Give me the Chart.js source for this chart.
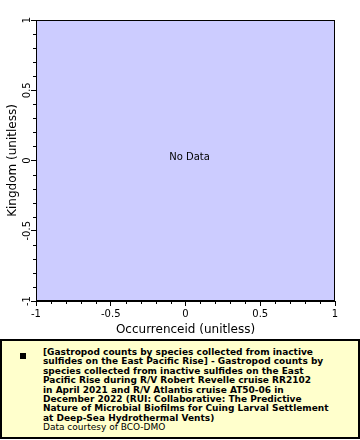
<!DOCTYPE html>
<html>
<head>
<meta charset="utf-8">
<script src="https://cdn.jsdelivr.net/npm/chart.js@4/dist/chart.umd.min.js"></script>
<style>
  body { margin: 0; background: #fff; width: 360px; height: 440px; overflow: hidden; position: relative; }
  #wrap { position: absolute; left: 0; top: 0; width: 360px; height: 338px; }
  #legend {
    position: absolute; left: 0; top: 339px; width: 360px; height: 100px;
    box-sizing: border-box; border: 2px solid #000; background: #FFFFCC;
    font-family: "DejaVu Sans", sans-serif; font-size: 9px; line-height: 9.4px; color: #000;
  }
  #legend .mark { position: absolute; left: 18px; top: 12px; width: 6px; height: 6px; background: #000; }
  #legend .txt { position: absolute; left: 41px; top: 7px; white-space: nowrap; }
  #legend .serie { font-weight: bold; }
</style>
</head>
<body>
<div id="wrap"><canvas id="myGraf" width="360" height="338"></canvas></div>
<div id="legend">
  <div class="mark"></div>
  <div class="txt" id="legendTxt"></div>
</div>
<script>
// donnees (aucune valeur dans ce jeu de donnees)
var occurrenceid = [];
var kingdom = [];
var xTicks = [-1, -0.5, 0, 0.5, 1];
var yTicks = [-1, -0.5, 0, 0.5, 1];
var xTitle = "Occurrenceid (unitless)";
var yTitle = "Kingdom (unitless)";
var serieLines = [
    "[Gastropod counts by species collected from inactive",
    "sulfides on the East Pacific Rise] - Gastropod counts by",
    "species collected from inactive sulfides on the East",
    "Pacific Rise during R/V Robert Revelle cruise RR2102",
    "in April 2021 and R/V Atlantis cruise AT50-06 in",
    "December 2022 (RUI: Collaborative: The Predictive",
    "Nature of Microbial Biofilms for Cuing Larval Settlement",
    "at Deep-Sea Hydrothermal Vents)"
];
var credit = "Data courtesy of BCO-DMO";

var legendTxt = document.getElementById('legendTxt');
serieLines.forEach(function(l) {
    var d = document.createElement('div');
    d.className = 'serie';
    d.textContent = l;
    legendTxt.appendChild(d);
});
var c = document.createElement('div');
c.textContent = credit;
legendTxt.appendChild(c);

var points = occurrenceid.map(function(v, i) { return { x: v, y: kingdom[i] }; });

// fond, cadre, petites graduations et "No Data"
var plotDeco = {
    id: 'plotDeco',
    beforeDraw: function(chart) {
        var a = chart.chartArea, ctx = chart.ctx;
        ctx.save();
        ctx.fillStyle = '#CCCCFF';
        ctx.fillRect(a.left, a.top, a.right - a.left, a.bottom - a.top);
        ctx.restore();
    },
    afterDraw: function(chart) {
        var a = chart.chartArea, ctx = chart.ctx;
        var sx = chart.scales.x, sy = chart.scales.y;
        ctx.save();
        ctx.strokeStyle = '#000';
        ctx.lineWidth = 1;
        ctx.strokeRect(a.left + 0.5, a.top + 0.5, a.right - a.left - 1, a.bottom - a.top - 1);
        ctx.beginPath();
        for (var i = -10; i <= 10; i++) {
            if (i % 5 === 0) continue;
            var px = Math.round(sx.getPixelForValue(i / 10)) + 0.5;
            ctx.moveTo(px, a.bottom);
            ctx.lineTo(px, a.bottom + 3);
            var py = Math.round(sy.getPixelForValue(i / 10)) + 0.5;
            ctx.moveTo(a.left, py);
            ctx.lineTo(a.left - 3, py);
        }
        ctx.stroke();
        if (!chart.data.datasets[0].data.length) {
            ctx.fillStyle = '#000';
            ctx.font = '10px "DejaVu Sans"';
            ctx.textAlign = 'center';
            ctx.textBaseline = 'middle';
            ctx.fillText('No Data', (a.left + a.right) / 2 + 4, (a.top + a.bottom) / 2 - 3);
        }
        ctx.restore();
    }
};

var ctx = document.getElementById('myGraf').getContext('2d');
var myGraf = new Chart(ctx, {
    type: 'scatter',
    data: {
        datasets: [{
            label: serieLines.join(' '),
            data: points,
            backgroundColor: '#000'
        }]
    },
    options: {
        responsive: false,
        animation: false,
        layout: { padding: { top: 20, right: 25, left: 0, bottom: 0 } },
        plugins: {
            legend: { display: false },
            tooltip: { enabled: false }
        },
        scales: {
            x: {
                type: 'linear',
                min: -1,
                max: 1,
                afterBuildTicks: function(scale) {
                    scale.ticks = xTicks.map(function(v) { return { value: v }; });
                },
                afterFit: function(scale) { scale.height = 37; },
                grid: { drawOnChartArea: false, color: '#000', tickLength: 5 },
                border: { color: '#000' },
                ticks: {
                    color: '#000',
                    padding: 2,
                    maxRotation: 0,
                    font: { family: 'DejaVu Sans', size: 10 },
                    callback: function(v) { return String(v); }
                },
                title: {
                    display: true,
                    text: xTitle,
                    color: '#000',
                    padding: { top: 0, bottom: 1 },
                    font: { family: 'DejaVu Sans', size: 12 }
                }
            },
            y: {
                type: 'linear',
                min: -1,
                max: 1,
                afterBuildTicks: function(scale) {
                    scale.ticks = yTicks.map(function(v) { return { value: v }; });
                },
                afterFit: function(scale) { scale.width = 36; },
                grid: { drawOnChartArea: false, color: '#000', tickLength: 5 },
                border: { color: '#000' },
                ticks: {
                    color: '#000',
                    padding: -6,
                    minRotation: 90,
                    maxRotation: 90,
                    crossAlign: 'center',
                    font: { family: 'DejaVu Sans', size: 10 },
                    callback: function(v) { return String(v); }
                },
                title: {
                    display: true,
                    text: yTitle,
                    color: '#000',
                    padding: { top: 6, bottom: 0 },
                    font: { family: 'DejaVu Sans', size: 12 }
                }
            }
        }
    },
    plugins: [plotDeco]
});
</script>
</body>
</html>
